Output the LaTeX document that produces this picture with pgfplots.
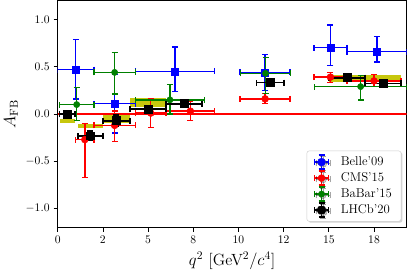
\documentclass[border=0pt]{standalone}
\usepackage{pgfplots}
\pgfplotsset{compat=1.18}
\usepackage{pgfplotstable}
\usetikzlibrary{shadows}

\definecolor{yel}{rgb}{0.78,0.78,0.05}
\definecolor{bgreen}{rgb}{0,0.5,0}

\pgfplotstableread{
x ex y ep em
1.0 1.0 0.47 0.32 0.31
3.15 1.15 0.11 0.31 0.31
6.49 2.19 0.45 0.26 0.21
11.475 1.385 0.44 0.19 0.19
15.09 0.91 0.70 0.24 0.19
17.66 1.66 0.66 0.16 0.11
}\belle

\pgfplotstableread{
x ex y ep em
1.5 0.5 -0.27 0.17 0.40
3.15 1.15 -0.12 0.15 0.17
5.15 0.85 0.01 0.15 0.15
7.34 1.34 0.03 0.10 0.10
11.475 1.385 0.16 0.06 0.05
15.09 0.91 0.39 0.05 0.06
17.5 1.5 0.35 0.07 0.06
}\cms

\pgfplotstableread{
x ex y ep em
1.05 0.95 0.10 0.18 0.17
3.15 1.15 0.44 0.21 0.23
6.21 1.91 0.15 0.16 0.15
11.5 1.39 0.43 0.17 0.21
16.76 2.55 0.29 0.12 0.14
}\babar

\pgfplotstableread{
x ex y ep em
0.54 0.44 -0.004 0.040 0.040
1.8 0.7 -0.229 0.046 0.048
3.25 0.75 -0.070 0.060 0.057
5.0 1.0 0.050 0.033 0.032
7.0 1.0 0.110 0.027 0.026
11.75 0.75 0.333 0.030 0.029
16.0 1.0 0.385 0.024 0.024
18.0 1.0 0.323 0.032 0.030
}\lhcb

\newcommand{\legcross}[1]{%
  \draw[#1, line width=1.3pt] (0pt,0pt) -- (12pt,0pt) (6pt,-6pt) -- (6pt,6pt);
  \draw[#1, line width=1.3pt] (0pt,-2.6pt) -- (0pt,2.6pt) (12pt,-2.6pt) -- (12pt,2.6pt) (3.4pt,-6pt) -- (8.6pt,-6pt) (3.4pt,6pt) -- (8.6pt,6pt);
}

\begin{document}
\begin{tikzpicture}
\begin{axis}[
  scale only axis,
  width=301pt, height=196pt,
  xmin=0, xmax=19.3, ymin=-1.2, ymax=1.2,
  axis line style={line width=0.8pt},
  tick align=outside,
  xtick pos=bottom, ytick pos=left,
  major tick length=3.5pt,
  tick style={black, line width=0.6pt},
  xtick={0,2.5,5,7.5,10,12.5,15,17.5},
  xticklabels={0,2,5,8,10,12,15,18},
  ytick={-1,-0.5,0,0.5,1},
  yticklabel style={/pgf/number format/.cd, fixed, fixed zerofill, precision=1},
  xlabel={$q^2$ [GeV$^2/c^4$]},
  ylabel={$A_{\mathrm{FB}}$},
  label style={font=\fontsize{14}{16}\selectfont},
  legend cell align=left,
  legend style={at={(0.985,0.027)}, anchor=south east, draw=gray!40, rounded corners=2pt, fill=white,
    drop shadow={opacity=0.35, shadow xshift=1.2pt, shadow yshift=-1.2pt},
    font=\fontsize{11}{13}\selectfont, row sep=0.5pt, inner xsep=6pt, inner ysep=3pt,
    /tikz/every odd column/.append style={column sep=8pt}},
]
% SM bands
\addplot[fill=yel, draw=none, forget plot] coordinates {(0.1,-0.093) (0.98,-0.093) (0.98,-0.05) (0.1,-0.05)} -- cycle;
\addplot[fill=yel, draw=none, forget plot] coordinates {(1.1,-0.15) (2.5,-0.15) (2.5,-0.104) (1.1,-0.104)} -- cycle;
\addplot[fill=yel, draw=none, forget plot] coordinates {(2.5,-0.10) (4.0,-0.10) (4.0,-0.01) (2.5,-0.01)} -- cycle;
\addplot[fill=yel, draw=none, forget plot] coordinates {(4.0,0.075) (6.0,0.075) (6.0,0.17) (4.0,0.17)} -- cycle;
\addplot[fill=yel, draw=none, forget plot] coordinates {(15.0,0.335) (19.0,0.335) (19.0,0.41) (15.0,0.41)} -- cycle;
% zero line
\addplot[red, line width=1pt, forget plot] coordinates {(0,0) (19.3,0)};

\addplot[blue, only marks, mark=square*, mark size=3pt, forget plot,
  error bars/.cd, x dir=both, x explicit, y dir=both, y explicit,
  error bar style={blue, line width=1.2pt},
  error mark options={rotate=90, blue, mark size=2.6pt, line width=1.2pt}]
  table[x=x, y=y, x error=ex, y error plus=ep, y error minus=em] {\belle};
\addplot[red, only marks, mark=*, mark size=3pt, forget plot,
  error bars/.cd, x dir=both, x explicit, y dir=both, y explicit,
  error bar style={red, line width=1.2pt},
  error mark options={rotate=90, red, mark size=2.6pt, line width=1.2pt}]
  table[x=x, y=y, x error=ex, y error plus=ep, y error minus=em] {\cms};
\addplot[bgreen, only marks, mark=*, mark size=2.7pt, forget plot,
  error bars/.cd, x dir=both, x explicit, y dir=both, y explicit,
  error bar style={bgreen, line width=1.2pt},
  error mark options={rotate=90, bgreen, mark size=2.6pt, line width=1.2pt}]
  table[x=x, y=y, x error=ex, y error plus=ep, y error minus=em] {\babar};
\addplot[black, only marks, mark=square*, mark size=3.4pt, forget plot,
  error bars/.cd, x dir=both, x explicit, y dir=both, y explicit,
  error bar style={black, line width=1.6pt},
  error mark options={rotate=90, black, mark size=2.6pt, line width=1.6pt}]
  table[x=x, y=y, x error=ex, y error plus=ep, y error minus=em] {\lhcb};

\addlegendimage{legend image code/.code={\legcross{blue}\fill[blue] (3pt,-3pt) rectangle (9pt,3pt);}}
\addlegendentry{Belle'09}
\addlegendimage{legend image code/.code={\legcross{red}\fill[red] (6pt,0pt) circle (3pt);}}
\addlegendentry{CMS'15}
\addlegendimage{legend image code/.code={\legcross{bgreen}\fill[bgreen] (6pt,0pt) circle (2.7pt);}}
\addlegendentry{BaBar'15}
\addlegendimage{legend image code/.code={\legcross{black}\fill[black] (2.7pt,-3.3pt) rectangle (9.3pt,3.3pt);}}
\addlegendentry{LHCb'20}
\end{axis}
\end{tikzpicture}
\end{document}
